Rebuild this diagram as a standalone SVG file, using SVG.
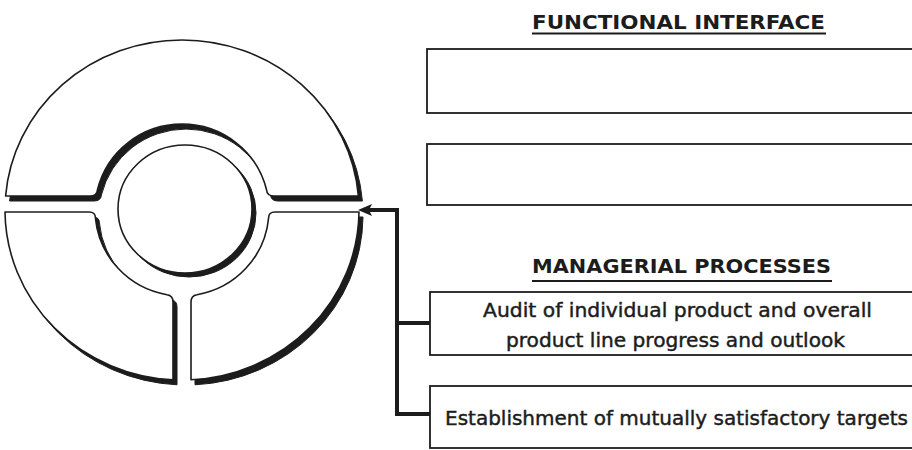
<svg xmlns="http://www.w3.org/2000/svg" width="912" height="450" viewBox="0 0 912 450">
<defs>
<style>
.shadow{fill:#1c1c1c;stroke:#1c1c1c;stroke-width:1}
.seg{fill:#fff;stroke:#1c1c1c;stroke-width:1.6;stroke-linejoin:round}
.box{fill:#fff;stroke:#1c1c1c;stroke-width:1.8}
.title{font-family:"DejaVu Sans","Liberation Sans",sans-serif;font-weight:bold;font-size:20px;fill:#1c1c1c}
.lbl{font-family:"DejaVu Sans","Liberation Sans",sans-serif;font-size:20px;fill:#1c1c1c;stroke:#1c1c1c;stroke-width:0.45}
.uline{stroke:#1c1c1c;stroke-width:2}
.conn{fill:none;stroke:#1c1c1c;stroke-width:4;stroke-linejoin:miter}
</style>
<marker id="arrow" viewBox="0 0 14 12" refX="4" refY="6" markerWidth="14" markerHeight="12" markerUnits="userSpaceOnUse" orient="auto">
<path d="M14,6 L0,0 L3,6 L0,12 Z" fill="#1c1c1c"/>
</marker>
<path id="segTop" d="M5.6,196 L90,196 Q97,196 97.4,190 A87,86 0 0 1 266.6,190 Q267,196 274,196 L358.4,196 A177,170 0 0 0 5.6,196 Z"/>
<path id="segBL" d="M5,212 L89,212 Q95.5,212 95.4,218 A87,86 0 0 0 167,294.7 Q173,295.5 173,302 L173,379.8 A177,170 0 0 1 5,212 Z"/>
<path id="segBR" d="M191,302 Q191,295.5 197,294.7 A87,86 0 0 0 268.6,218 Q268.5,212 275,212 L359,212 A177,170 0 0 1 191,379.8 Z"/>
</defs>
<rect width="912" height="450" fill="#fff"/>

<g id="ring-top">
<use href="#segTop" class="shadow" transform="translate(4,5)"/>
<use href="#segTop" class="seg"/>
</g>
<g id="ring-bottom-left">
<use href="#segBL" class="shadow" transform="translate(4,5)"/>
<use href="#segBL" class="seg"/>
</g>
<g id="ring-bottom-right">
<use href="#segBR" class="shadow" transform="translate(4,5)"/>
<use href="#segBR" class="seg"/>
</g>
<g id="ring-center">
<ellipse cx="189" cy="213" rx="67" ry="64" class="shadow"/>
<ellipse cx="185" cy="209" rx="67" ry="64" class="seg"/>
</g>

<g id="functional-interface">
<text x="532" y="29" class="title" textLength="293" lengthAdjust="spacingAndGlyphs">FUNCTIONAL INTERFACE</text>
<line x1="532" y1="33.5" x2="826" y2="33.5" class="uline"/>
</g>
<g id="fi-box-1"><rect x="427" y="49" width="500" height="64" class="box"/></g>
<g id="fi-box-2"><rect x="427" y="144" width="500" height="61" class="box"/></g>

<g id="managerial-processes">
<text x="532" y="273" class="title" textLength="299" lengthAdjust="spacingAndGlyphs">MANAGERIAL PROCESSES</text>
<line x1="532" y1="281" x2="832" y2="281" class="uline"/>
</g>
<g id="mp-box-audit">
<rect x="430" y="292" width="500" height="63" class="box"/>
<text x="483" y="317" class="lbl" textLength="389" lengthAdjust="spacingAndGlyphs">Audit of individual product and overall</text>
<text x="506" y="346.5" class="lbl" textLength="339" lengthAdjust="spacingAndGlyphs">product line progress and outlook</text>
</g>
<g id="mp-box-targets">
<rect x="430" y="386" width="500" height="62" class="box"/>
<text x="445" y="425" class="lbl" textLength="463" lengthAdjust="spacingAndGlyphs">Establishment of mutually satisfactory targets</text>
</g>

<g id="connectors">
<path d="M430,414 L397,414 L397,210 L368,210" class="conn" marker-end="url(#arrow)"/>
<path d="M397,323 L430,323" class="conn"/>
</g>
</svg>
